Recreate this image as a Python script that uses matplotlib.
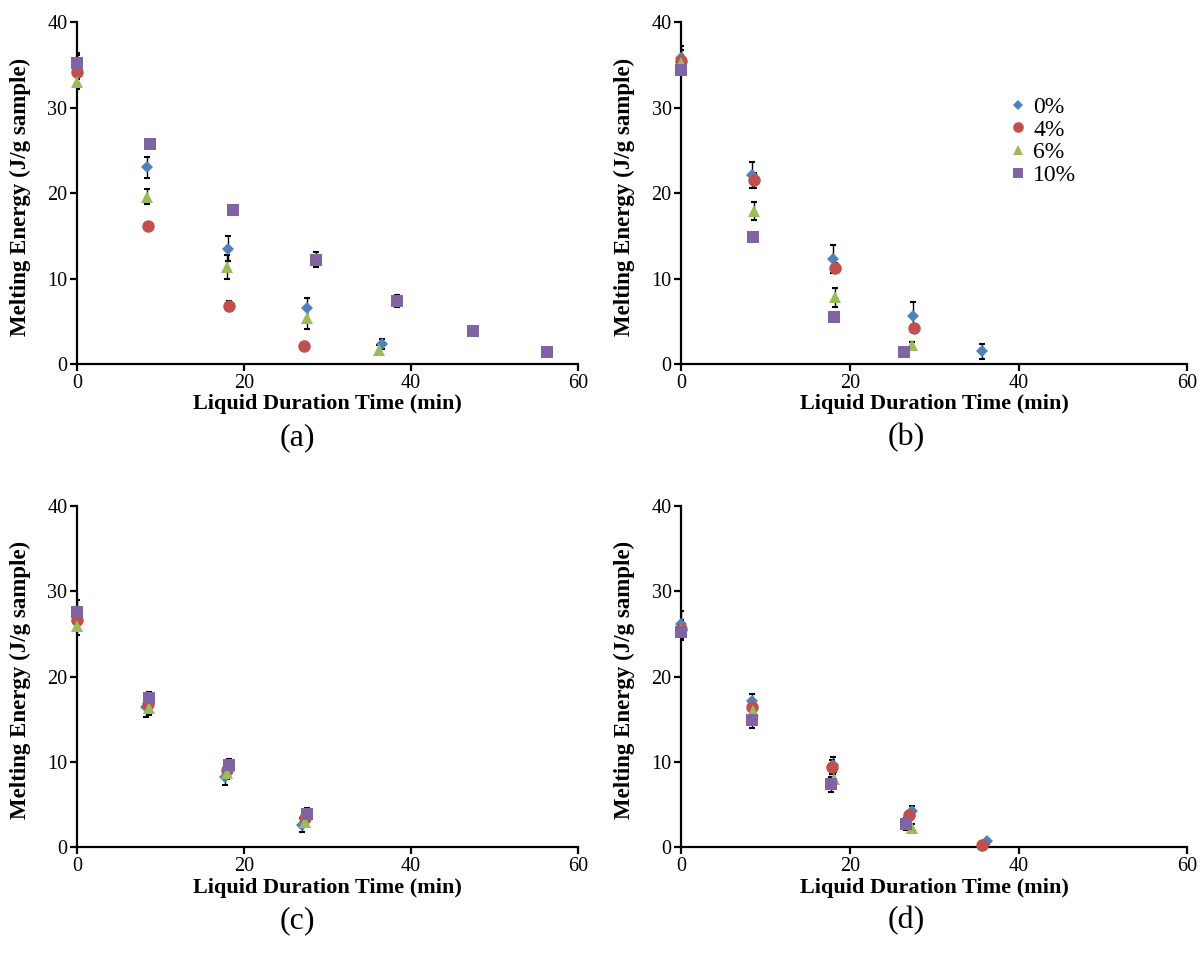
import matplotlib.pyplot as plt
import numpy as np

plt.rcParams["font.family"] = ["Liberation Serif", "DejaVu Serif"]

LABELS = ["0%", "4%", "6%", "10%"]
COLORS = ["#4F81BD", "#C0504D", "#9BBB59", "#8064A2"]
MARKERS = ["D", "o", "^", "s"]
MSIZES = [6.5, 9, 8.5, 9]

# panel (a)
a_x = [
    [0, 8.4, 18.1, 27.5, 36.5],
    [0, 8.5, 18.2, 27.2],
    [0, 8.4, 18.0, 27.5, 36.2],
    [0, 8.7, 18.7, 28.6, 38.3, 47.4, 56.3],
]
a_y = [
    [35.0, 23.0, 13.5, 6.5, 2.3],
    [34.2, 16.1, 6.8, 2.1],
    [33.0, 19.6, 11.3, 5.4, 1.6],
    [35.2, 25.7, 18.0, 12.2, 7.4, 3.9, 1.4],
]
a_err = [
    [1.4, 1.2, 1.5, 1.2, 0.6],
    [0.8, 0.3, 0.6, 0.3],
    [0.8, 0.9, 1.4, 1.3, 0.6],
    [1.0, 0.3, 0.6, 0.9, 0.7, 0.3, 0.2],
]

# panel (b)
b_x = [
    [0, 8.4, 18.0, 27.5, 35.7],
    [0, 8.6, 18.2, 27.6],
    [0, 8.6, 18.2, 27.3],
    [0, 8.5, 18.1, 26.4],
]
b_y = [
    [35.8, 22.1, 12.3, 5.6, 1.5],
    [35.5, 21.5, 11.2, 4.2],
    [35.2, 17.9, 7.8, 2.2],
    [34.4, 14.9, 5.5, 1.4],
]
b_err = [
    [1.4, 1.5, 1.6, 1.6, 0.9],
    [1.2, 0.9, 0.6, 0.3],
    [1.0, 1.1, 1.1, 0.4],
    [0.5, 0.3, 0.3, 0.2],
]

# panel (c)
c_x = [
    [0, 8.2, 17.7, 26.9],
    [0, 8.5, 18.0, 27.3],
    [0, 8.6, 18.0, 27.3],
    [0, 8.6, 18.2, 27.5],
]
c_y = [
    [26.5, 16.4, 8.2, 2.6],
    [26.6, 16.8, 9.1, 3.4],
    [25.9, 16.3, 8.7, 3.0],
    [27.6, 17.5, 9.7, 3.9],
]
c_err = [
    [1.2, 1.1, 0.9, 0.8],
    [1.0, 0.8, 0.7, 0.6],
    [1.0, 0.8, 0.7, 0.6],
    [1.4, 0.7, 0.6, 0.7],
]

# panel (d)
d_x = [
    [0, 8.4, 18.0, 27.3, 36.3],
    [0, 8.4, 17.9, 27.0, 35.7],
    [0, 8.5, 18.1, 27.3],
    [0, 8.4, 17.8, 26.7],
]
d_y = [
    [26.2, 17.1, 9.6, 4.3, 0.7],
    [25.6, 16.4, 9.4, 3.8, 0.3],
    [25.4, 16.0, 8.0, 2.3],
    [25.2, 14.9, 7.4, 2.7],
]
d_err = [
    [1.5, 0.9, 1.0, 0.6, 0.3],
    [1.0, 0.8, 0.8, 0.5, 0.2],
    [1.0, 0.8, 0.8, 0.4],
    [0.9, 0.9, 0.9, 0.7],
]

PANELS = [
    ("(a)", a_x, a_y, a_err),
    ("(b)", b_x, b_y, b_err),
    ("(c)", c_x, c_y, c_err),
    ("(d)", d_x, d_y, d_err),
]

# axes rectangles in figure fraction
RECTS = [
    [0.064, 0.622, 0.416, 0.355],
    [0.566, 0.622, 0.420, 0.355],
    [0.064, 0.120, 0.416, 0.355],
    [0.566, 0.120, 0.420, 0.355],
]
# x position (axes fraction) of the panel tag
TAG_X = [0.44, 0.445, 0.44, 0.445]

fig = plt.figure(figsize=(12.04, 9.63), dpi=100)

for k, (rect, (tag, xs, ys, errs)) in enumerate(zip(RECTS, PANELS)):
    ax = fig.add_axes(rect)
    for i in range(4):
        ax.errorbar(xs[i], ys[i], yerr=errs[i], fmt="none", ecolor="black",
                    elinewidth=1.0, capsize=2, capthick=1.5, zorder=2)
    for i in range(4):
        ax.plot(xs[i], ys[i], linestyle="none", marker=MARKERS[i],
                markersize=MSIZES[i], color=COLORS[i], markeredgewidth=0,
                label=LABELS[i], zorder=3 + i, clip_on=False)
    ax.set_xlim(0, 60)
    ax.set_ylim(0, 40)
    ax.set_xticks([0, 20, 40, 60])
    ax.set_yticks([0, 10, 20, 30, 40])
    for s in ["top", "right"]:
        ax.spines[s].set_visible(False)
    for s in ["left", "bottom"]:
        ax.spines[s].set_linewidth(1.6)
    ax.tick_params(direction="out", length=5, width=1.6, labelsize=14.5, pad=2)
    ax.set_xlabel("Liquid Duration Time (min)", fontsize=16, fontweight="bold",
                  labelpad=1)
    ax.set_ylabel("Melting Energy (J/g sample)", fontsize=16.5, fontweight="bold")
    ax.yaxis.set_label_coords(-0.113, 0.49)
    ax.yaxis.label.set_va("center")
    ax.text(TAG_X[k], -0.215, tag, transform=ax.transAxes, ha="center",
            va="center", fontsize=23)
    if tag == "(b)":
        ax.legend(loc="upper left", bbox_to_anchor=(0.6, 0.845), frameon=False,
                  fontsize=17, handletextpad=0.15, labelspacing=0.05,
                  handlelength=1.0, markerscale=0.85)

fig.savefig("out.png", dpi=100)
plt.close(fig)
